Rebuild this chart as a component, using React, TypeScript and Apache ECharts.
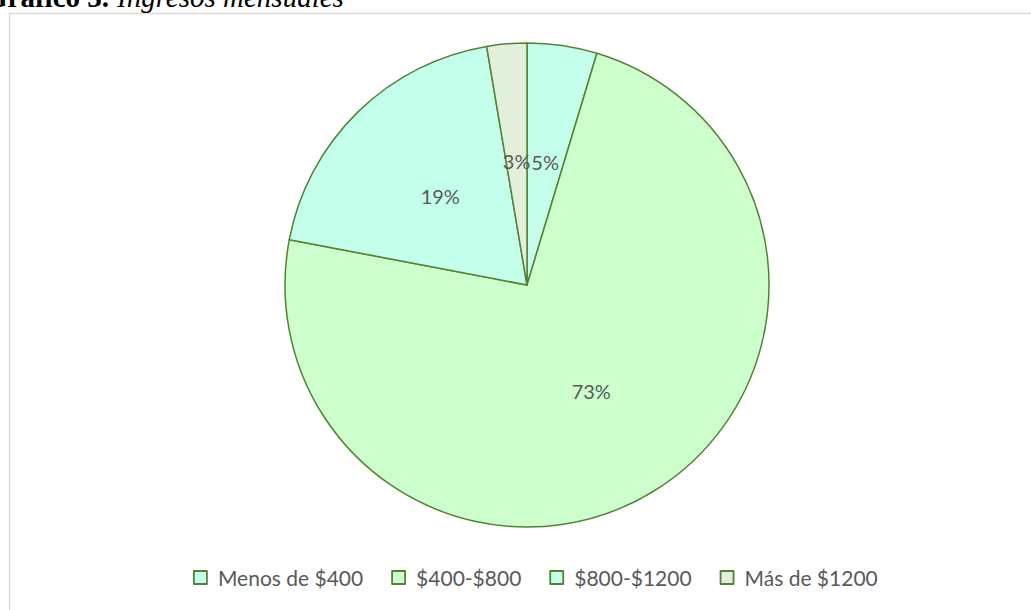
import React, { useEffect, useRef } from "react";
import * as echarts from "echarts";

const categories = ["Menos de $400", "$400-$800", "$800-$1200", "Más de $1200"];
const counts = [7, 110, 29, 4];
const sliceColors = ["#C4FFEC", "#CCFFCC", "#C4FFEC", "#E2EFDA"];
const titleBold = "Gráfico 3.";
const titleItalic = "Ingresos mensuales";

export default function App() {
  const ref = useRef<HTMLDivElement>(null);
  useEffect(() => {
    if (!ref.current) return;
    const chart = echarts.init(ref.current, null, { renderer: "svg" });
    chart.setOption({
      animation: false,
      backgroundColor: "#ffffff",
      graphic: [
        {
          type: "rect",
          shape: { x: 9.5, y: 13.5, width: 1040, height: 620 },
          style: { fill: "#ffffff", stroke: "#D9D9D9", lineWidth: 1.5 },
          z: -10,
        },
        {
          type: "text",
          x: -15,
          y: 11,
          style: {
            text: "{b|" + titleBold + "}{i|" + titleItalic + "}",
            verticalAlign: "bottom",
            rich: {
              b: { fontFamily: "Liberation Serif", fontWeight: "bold", fontSize: 29, fill: "#000" },
              i: {
                fontFamily: "Liberation Serif",
                fontStyle: "italic",
                fontSize: 29,
                fill: "#000",
                padding: [0, 0, 0, 8],
              },
            },
          },
        },
      ],
      legend: {
        top: 562,
        left: 188,
        itemWidth: 13,
        itemHeight: 13,
        itemGap: 28,
        icon: "rect",
        textStyle: {
          color: "#595959",
          fontSize: 21,
          fontFamily: "Lato",
          padding: [0, 0, 0, 6],
        },
        itemStyle: { borderColor: "#548235", borderWidth: 1.8 },
        data: categories,
      },
      series: [
        {
          type: "pie",
          center: [527, 285],
          radius: 242,
          startAngle: 90,
          clockwise: true,
          data: categories.map((name, i) => ({
            name,
            value: counts[i],
            itemStyle: { color: sliceColors[i] },
          })),
          itemStyle: { borderColor: "#548235", borderWidth: 1.5 },
          label: {
            show: true,
            position: "inside",
            formatter: (p: any) => Math.round(p.percent) + "%",
            color: "#595959",
            fontSize: 20,
            fontFamily: "Lato",
          },
          labelLine: { show: false },
          emphasis: { disabled: true },
        },
      ],
    });
    return () => chart.dispose();
  }, []);
  return (
    <div
      ref={ref}
      style={{ position: "fixed", left: 0, top: 0, width: 1031, height: 610 }}
    />
  );
}
